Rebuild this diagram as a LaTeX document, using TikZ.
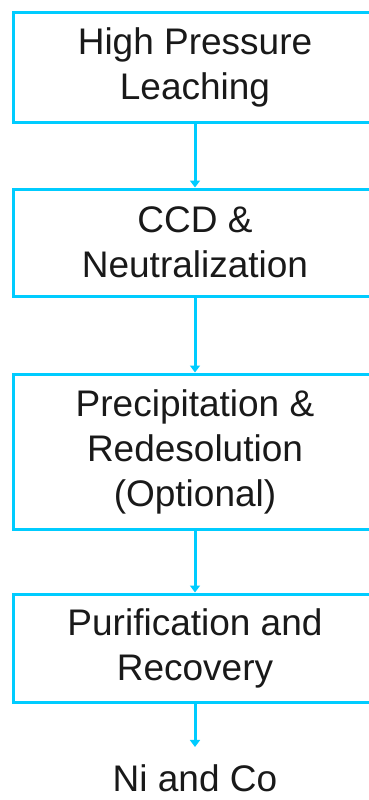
\documentclass[tikz,border=0pt]{standalone}
\usepackage{fontspec}
\setmainfont{Liberation Sans}
\usetikzlibrary{arrows.meta}
\definecolor{boxcyan}{RGB}{0,204,255}
\definecolor{txt}{RGB}{25,25,25}
\begin{document}
\begin{tikzpicture}[x=1pt,y=-1pt,
  stepbox/.style={draw=boxcyan, line width=3pt, rectangle, minimum width=363pt,
    inner sep=0pt, align=center, text=txt, font=\fontsize{37}{45}\selectfont},
  arr/.style={draw=boxcyan, line width=3pt, -{Triangle[width=10pt,length=7pt]}}
  ]
\useasboundingbox (0,0) rectangle (368,800);
\node[stepbox, minimum height=109pt] (b1) at (195,67.5) {High Pressure\\Leaching};
\node[stepbox, minimum height=107pt] (b2) at (195,242.5) {CCD \&\\Neutralization};
\node[stepbox, minimum height=155pt] (b3) at (195,451.5) {Precipitation \&\\Redesolution\\(Optional)};
\node[stepbox, minimum height=108pt] (b4) at (195,648) {Purification and\\Recovery};
\node[anchor=base, inner sep=0pt, text=txt, font=\fontsize{37}{45}\selectfont] (out) at (195,791) {Ni and Co};
\draw[arr] (b1.south) -- (b2.north);
\draw[arr] (b2.south) -- (b3.north);
\draw[arr] (b3.south) -- (b4.north);
\draw[arr, shorten >=17pt] (b4.south) -- (out.north);
\end{tikzpicture}
\end{document}
